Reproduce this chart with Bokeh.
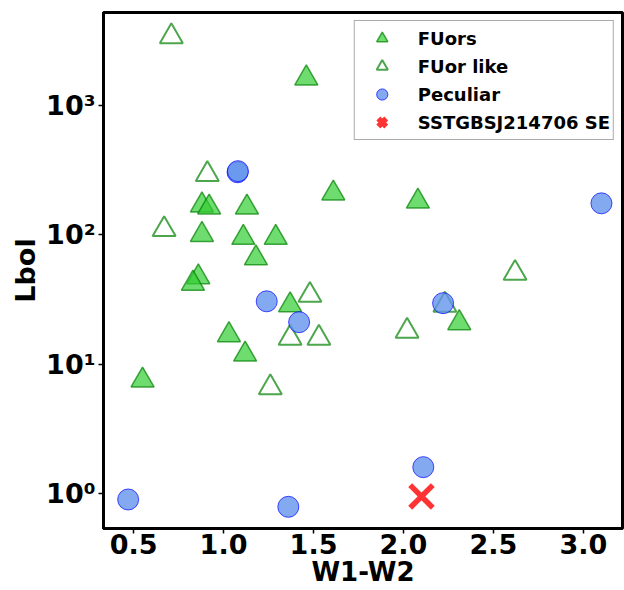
from bokeh.plotting import figure
from bokeh.models import Legend, LegendItem, FixedTicker, Range1d
from bokeh.embed import file_html
from bokeh.resources import INLINE

# ---- data ----
fuor_x = [1.46, 1.61, 2.08, 0.88, 0.92, 1.13, 0.88, 1.11, 1.29, 1.18, 0.86, 0.83, 1.37, 1.03, 1.12, 0.55, 2.31]
fuor_y = [1620, 209, 181, 169, 163, 163, 100, 95, 95, 66, 47, 42, 28.6, 16.8, 11.9, 7.5, 20.8]

fulike_x = [0.71, 0.91, 0.67, 1.48, 1.37, 1.53, 1.26, 2.02, 2.23, 2.62]
fulike_y = [3400, 293, 110, 34.1, 15.9, 15.9, 6.6, 18.0, 28.6, 50.5]

pec_x = [1.078, 1.08, 3.10, 1.24, 1.42, 2.22, 2.11, 0.47, 1.36]
pec_y = [304, 310, 175, 30.6, 21.1, 29.6, 1.6, 0.90, 0.79]

sst_x = [2.10]
sst_y = [0.95]

x_ticks = [0.5, 1.0, 1.5, 2.0, 2.5, 3.0]
x_tick_labels = ["0.5", "1.0", "1.5", "2.0", "2.5", "3.0"]
y_ticks = [1, 10, 100, 1000]
y_tick_labels = ["10\u2070", "10\u00b9", "10\u00b2", "10\u00b3"]

FONT = "DejaVu Sans"

p = figure(width=624, height=590, y_axis_type="log",
           x_range=Range1d(0.333, 3.217), y_range=Range1d(0.537, 5220),
           output_backend="svg", toolbar_location=None,
           min_border_left=103, min_border_right=2, min_border_top=12, min_border_bottom=62)

r_fu = p.scatter(fuor_x, fuor_y, marker="triangle", size=23,
                 fill_color="limegreen", fill_alpha=0.7,
                 line_color="green", line_alpha=0.7, line_width=1.5)
r_like = p.scatter(fulike_x, fulike_y, marker="triangle", size=23,
                   fill_color=None, line_color="green", line_alpha=0.7, line_width=2)
r_pec = p.scatter(pec_x, pec_y, marker="circle", size=21,
                  fill_color="cornflowerblue", fill_alpha=0.8,
                  line_color="blue", line_alpha=0.7, line_width=1)
r_sst = p.scatter(sst_x, sst_y, marker="x", size=32,
                  line_color="red", line_alpha=0.8, line_width=5.5)

p.grid.visible = False
p.outline_line_color = "black"
p.outline_line_width = 3

for ax in (p.xaxis[0], p.yaxis[0]):
    ax.axis_line_width = 3
    ax.axis_line_color = "black"
    ax.major_tick_line_width = 1.5
    ax.major_tick_in = 0
    ax.major_tick_out = 5
    ax.minor_tick_line_color = None
    ax.major_label_text_font = FONT
    ax.major_label_text_font_style = "bold"
    ax.major_label_text_font_size = "27px"
    ax.major_label_text_color = "black"
    ax.axis_label_text_font = FONT
    ax.axis_label_text_font_style = "bold"
    ax.axis_label_text_font_size = "27px"
    ax.axis_label_text_color = "black"

p.xaxis[0].ticker = FixedTicker(ticks=x_ticks)
p.xaxis[0].major_label_overrides = {float(t): lab for t, lab in zip(x_ticks, x_tick_labels)}
p.yaxis[0].ticker = FixedTicker(ticks=y_ticks)
p.yaxis[0].major_label_overrides = {float(t): lab for t, lab in zip(y_ticks, y_tick_labels)}
p.xaxis[0].axis_label = "W1-W2"
p.yaxis[0].axis_label = "Lbol"
p.xaxis[0].major_label_standoff = 0
p.xaxis[0].axis_label_standoff = 0
p.xaxis[0].axis_label_text_font_size = "26px"
p.yaxis[0].major_label_standoff = 3
p.yaxis[0].axis_label_standoff = 2

legend = Legend(items=[
    LegendItem(label="FUors", renderers=[r_fu]),
    LegendItem(label="FUor like", renderers=[r_like]),
    LegendItem(label="Peculiar", renderers=[r_pec]),
    LegendItem(label="SSTGBSJ214706 SE", renderers=[r_sst]),
], location="top_right")
legend.label_text_font = FONT
legend.label_text_font_style = "bold"
legend.label_text_font_size = "18px"
legend.label_text_color = "black"
legend.glyph_width = 48
legend.glyph_height = 28
legend.label_height = 28
legend.spacing = 0
legend.padding = 3
legend.margin = 8
legend.label_standoff = 12
legend.border_line_color = "#555555"
legend.border_line_width = 1
legend.background_fill_alpha = 0.85
p.add_layout(legend, "center")

open("out.html", "w").write(file_html(p, INLINE))
